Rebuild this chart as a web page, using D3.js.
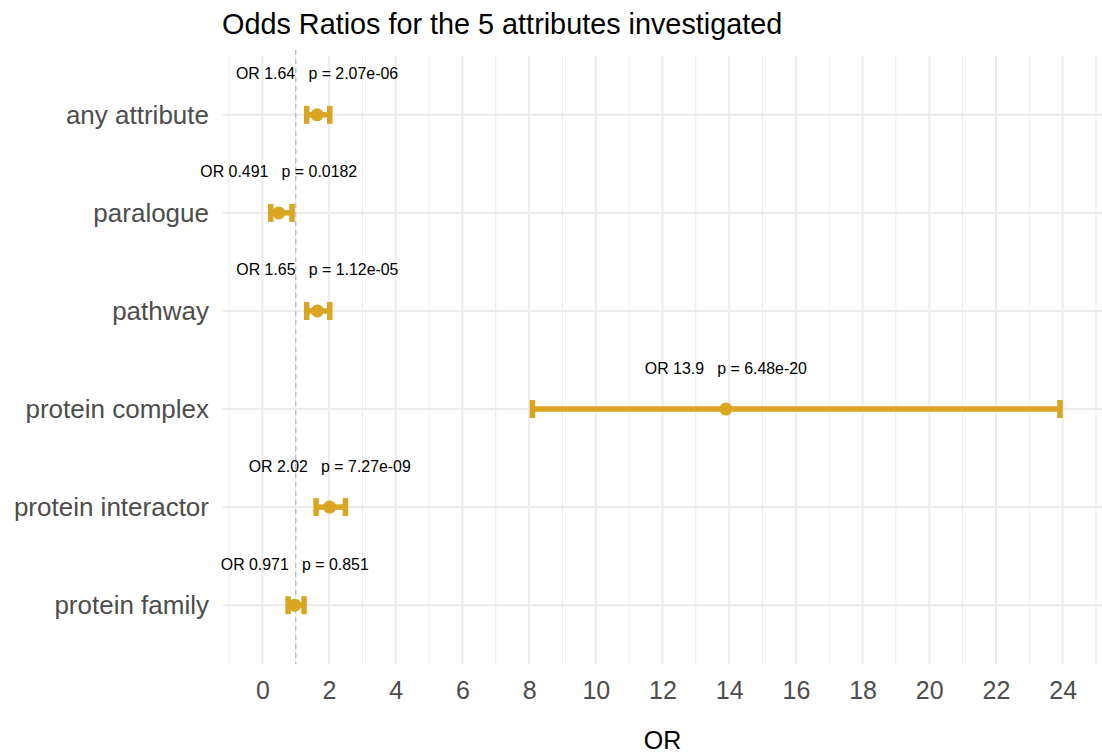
<!DOCTYPE html>
<html><head><meta charset="utf-8">
<script src="https://cdn.jsdelivr.net/npm/d3@7"></script>
<style>
body{margin:0;background:#fff;}
svg{font-family:"Liberation Sans",Arial,sans-serif;}
</style></head><body>
<svg id="chart" width="1102" height="756"></svg>
<script>
const categories = ["any attribute","paralogue","pathway","protein complex","protein interactor","protein family"];
const orValues = [1.64, 0.491, 1.65, 13.9, 2.02, 0.971];
const lowerCI = [1.33, 0.25, 1.33, 8.1, 1.61, 0.77];
const upperCI = [2.02, 0.89, 2.02, 23.92, 2.49, 1.25];
const orLabels = ["1.64","0.491","1.65","13.9","2.02","0.971"];
const pLabels = ["2.07e-06","0.0182","1.12e-05","6.48e-20","7.27e-09","0.851"];
const xTicks = [0,2,4,6,8,10,12,14,16,18,20,22,24];
const xMinor = [-1,1,3,5,7,9,11,13,15,17,19,21,23,25];

const svg = d3.select("#chart");
const panel = {left:222.7, right:1102, top:56, bottom:664};
const x = d3.scaleLinear().domain([-1.19, 25.18]).range([panel.left, panel.right]);
const y = d3.scalePoint().domain(categories).range([panel.top, panel.bottom]).padding(0.6);
const gold = "#DAA520";

// grid
const g = svg.append("g");
g.selectAll("line.minor").data(xMinor).join("line")
  .attr("x1", d=>x(d)).attr("x2", d=>x(d)).attr("y1", panel.top).attr("y2", panel.bottom)
  .attr("stroke","#EBEBEB").attr("stroke-width",1);
g.selectAll("line.major").data(xTicks).join("line")
  .attr("x1", d=>x(d)).attr("x2", d=>x(d)).attr("y1", panel.top).attr("y2", panel.bottom)
  .attr("stroke","#EBEBEB").attr("stroke-width",2);
g.selectAll("line.hmajor").data(categories).join("line")
  .attr("x1", panel.left).attr("x2", panel.right).attr("y1", d=>y(d)).attr("y2", d=>y(d))
  .attr("stroke","#EBEBEB").attr("stroke-width",2);

// reference line
svg.append("line").attr("x1",x(1)).attr("x2",x(1)).attr("y1",panel.top-6).attr("y2",panel.bottom)
  .attr("stroke","#BDBDBD").attr("stroke-width",1.4).attr("stroke-dasharray","5,4");

// error bars
const rows = categories.map((c,i)=>({c, or:orValues[i], lo:lowerCI[i], hi:upperCI[i], orl:orLabels[i], p:pLabels[i]}));
const eb = svg.append("g");
eb.selectAll("line.h").data(rows).join("line")
  .attr("x1", d=>x(d.lo)).attr("x2", d=>x(d.hi)).attr("y1", d=>y(d.c)).attr("y2", d=>y(d.c))
  .attr("stroke", gold).attr("stroke-width", 5.5);
eb.selectAll("line.l").data(rows).join("line")
  .attr("x1", d=>x(d.lo)).attr("x2", d=>x(d.lo)).attr("y1", d=>y(d.c)-9).attr("y2", d=>y(d.c)+9)
  .attr("stroke", gold).attr("stroke-width", 5.5);
eb.selectAll("line.r").data(rows).join("line")
  .attr("x1", d=>x(d.hi)).attr("x2", d=>x(d.hi)).attr("y1", d=>y(d.c)-9).attr("y2", d=>y(d.c)+9)
  .attr("stroke", gold).attr("stroke-width", 5.5);
eb.selectAll("circle").data(rows).join("circle")
  .attr("cx", d=>x(d.or)).attr("cy", d=>y(d.c)).attr("r", 6.5).attr("fill", gold);

// labels
svg.append("g").selectAll("text").data(rows).join("text")
  .attr("x", d=>x(d.or)).attr("y", d=>y(d.c)-41)
  .attr("text-anchor","middle").attr("dominant-baseline","central")
  .attr("font-size", 15.9).attr("fill","#000")
  .attr("xml:space","preserve").style("white-space","pre")
  .text(d=>"OR " + d.orl + "   p = " + d.p);

// y axis labels
svg.append("g").selectAll("text").data(categories).join("text")
  .attr("x", 209).attr("y", d=>y(d)).attr("text-anchor","end").attr("dominant-baseline","central")
  .attr("font-size", 26).attr("fill","#4D4D4D").text(d=>d);

// x axis
const xAxis = d3.axisBottom(x).tickValues(xTicks).tickSize(0).tickPadding(0);
const ax = svg.append("g").attr("transform", `translate(0,${panel.bottom})`).call(xAxis);
ax.select(".domain").remove();
ax.selectAll("text").attr("font-size", 25).attr("fill","#4D4D4D")
  .attr("font-family","Liberation Sans, Arial, sans-serif").attr("dy", null)
  .attr("y", 26).attr("dominant-baseline","central");

svg.append("text").attr("x", x(12)).attr("y", 740).attr("text-anchor","middle")
  .attr("dominant-baseline","central").attr("font-size", 25).attr("fill","#000").text("OR");

svg.append("text").attr("x", 222).attr("y", 24).attr("dominant-baseline","central")
  .attr("font-size", 28.8).attr("fill","#000").text("Odds Ratios for the 5 attributes investigated");
</script>
</body></html>
